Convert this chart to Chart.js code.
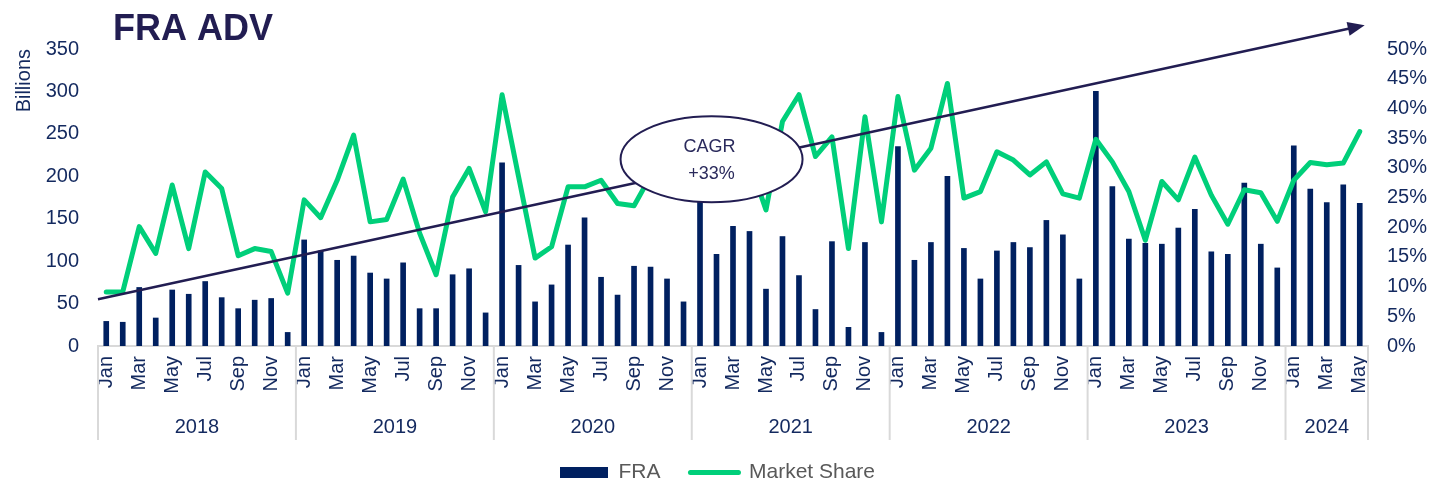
<!DOCTYPE html>
<html>
<head>
<meta charset="utf-8">
<script src="https://cdn.jsdelivr.net/npm/chart.js@4.4.1/dist/chart.umd.min.js"></script>
<style>
  html, body { margin: 0; padding: 0; background: #fff; }
  #wrap { width: 1435px; height: 482px; }
</style>
</head>
<body>
<div id="wrap"><canvas id="fraChart" width="1435" height="482"></canvas></div>
<script>
// Axis categories: one bar per month, Jan 2018 - May 2024
const years = ['2018', '2019', '2020', '2021', '2022', '2023', '2024'];
const monthsInYear = [12, 12, 12, 12, 12, 12, 5];
const monthNames = ['Jan', 'Feb', 'Mar', 'Apr', 'May', 'Jun', 'Jul', 'Aug', 'Sep', 'Oct', 'Nov', 'Dec'];

// FRA average daily volume, billions
const fraAdv = [
  29, 28, 69, 33, 66, 61, 76, 57, 44, 54, 56, 16,        // 2018
  125, 112, 101, 106, 86, 79, 98, 44, 44, 84, 91, 39,    // 2019
  216, 95, 52, 72, 119, 151, 81, 60, 94, 93, 79, 52,     // 2020
  200, 108, 141, 135, 67, 129, 83, 43, 123, 22, 122, 16, // 2021
  235, 101, 122, 200, 115, 79, 112, 122, 116, 148, 131, 79, // 2022
  300, 188, 126, 121, 120, 139, 161, 111, 108, 192, 120, 92, // 2023
  236, 185, 169, 190, 168                                // 2024
];

// Market share, percent
const marketShare = [
  9.1, 9.1, 20.1, 15.6, 27.1, 16.4, 29.3, 26.5, 15.2, 16.4, 15.9, 8.9,
  24.6, 21.6, 27.9, 35.5, 20.9, 21.3, 28.1, 19.0, 12.0, 25.1, 29.9, 22.6,
  42.3, 28.5, 14.8, 16.7, 26.8, 26.8, 27.9, 24.0, 23.6, 28.6, 30.0, 32.0,
  34.0, 31.0, 29.0, 31.0, 22.9, 37.8, 42.3, 31.9, 35.2, 16.4, 38.6, 20.9,
  42.0, 29.6, 33.3, 44.2, 24.9, 26.0, 32.7, 31.3, 28.8, 31.0, 25.6, 24.9,
  34.8, 31.0, 26.0, 17.8, 27.7, 24.6, 31.8, 25.4, 20.5, 26.3, 25.8, 21.0,
  27.9, 30.9, 30.5, 30.8, 36.1
];

// Tick ranges
const leftTicks = { min: 0, max: 350, step: 50 };
const rightTicks = { min: 0, max: 50, step: 5 };

// CAGR annotation, in axis units (category index, billions)
const trendFrom = { x: -0.5, y: 55 };
const trendTo = { x: 76.3, y: 378 };
const cagrAt = { x: 36.7, y: 220 };
const cagrText = ['CAGR', '+33%'];

const labels = [];
years.forEach((yr, k) => {
  for (let m = 0; m < monthsInYear[k]; m++) labels.push(monthNames[m]);
});

const navy = '#002060';
const green = '#00cf7a';
const ink = '#221d52';
const tickColor = '#13295f';

Chart.defaults.font.family = "'Liberation Sans', Arial, sans-serif";

// square-ish swatch for the bar legend item
const fraSwatch = document.createElement('canvas');
fraSwatch.width = 48;
fraSwatch.height = 11;
const sw = fraSwatch.getContext('2d');
sw.fillStyle = navy;
sw.fillRect(0, 0, 48, 11);

const overlay = {
  id: 'overlay',
  afterDatasetsDraw(chart) {
    const { ctx, scales: { x, y } } = chart;
    ctx.save();
    // trend arrow
    const x0 = x.getPixelForValue(trendFrom.x), y0 = y.getPixelForValue(trendFrom.y);
    const x1 = x.getPixelForValue(trendTo.x), y1 = y.getPixelForValue(trendTo.y);
    const ang = Math.atan2(y1 - y0, x1 - x0);
    ctx.strokeStyle = ink;
    ctx.fillStyle = ink;
    ctx.lineWidth = 2.5;
    ctx.beginPath();
    ctx.moveTo(x0, y0);
    ctx.lineTo(x1 - 12 * Math.cos(ang), y1 - 12 * Math.sin(ang));
    ctx.stroke();
    ctx.beginPath();
    ctx.moveTo(x1, y1);
    ctx.lineTo(x1 - 17 * Math.cos(ang) + 7 * Math.sin(ang), y1 - 17 * Math.sin(ang) - 7 * Math.cos(ang));
    ctx.lineTo(x1 - 17 * Math.cos(ang) - 7 * Math.sin(ang), y1 - 17 * Math.sin(ang) + 7 * Math.cos(ang));
    ctx.closePath();
    ctx.fill();

    // CAGR bubble
    const cx = x.getPixelForValue(cagrAt.x), cy = y.getPixelForValue(cagrAt.y);
    ctx.beginPath();
    ctx.ellipse(cx, cy, 91, 43, 0, 0, Math.PI * 2);
    ctx.fillStyle = '#fff';
    ctx.fill();
    ctx.lineWidth = 2;
    ctx.stroke();
    ctx.fillStyle = '#2a2a5c';
    ctx.font = "18px 'Liberation Sans', Arial, sans-serif";
    ctx.textAlign = 'center';
    ctx.textBaseline = 'middle';
    ctx.fillText(cagrText[0], cx - 2, cy - 12);
    ctx.fillText(cagrText[1], cx, cy + 15);
    ctx.restore();
  },
  afterDraw(chart) {
    const { ctx, scales: { x }, chartArea } = chart;
    ctx.save();
    // year groups under the month labels
    ctx.strokeStyle = '#d9d9d9';
    ctx.lineWidth = 2;
    ctx.fillStyle = tickColor;
    ctx.font = "20px 'Liberation Sans', Arial, sans-serif";
    ctx.textAlign = 'center';
    ctx.textBaseline = 'middle';
    let start = 0;
    years.forEach((yr, k) => {
      const end = start + monthsInYear[k];
      const left = x.getPixelForValue(start - 0.5);
      const right = x.getPixelForValue(end - 0.5);
      ctx.beginPath();
      ctx.moveTo(left, chartArea.bottom);
      ctx.lineTo(left, chartArea.bottom + 94);
      if (k === years.length - 1) {
        ctx.moveTo(right, chartArea.bottom);
        ctx.lineTo(right, chartArea.bottom + 94);
      }
      ctx.stroke();
      ctx.fillText(yr, (left + right) / 2, chartArea.bottom + 81);
      start = end;
    });
    // title
    ctx.fillStyle = ink;
    ctx.font = "bold 36px 'Liberation Sans', Arial, sans-serif";
    ctx.textAlign = 'left';
    ctx.textBaseline = 'alphabetic';
    ctx.fillText('FRA ADV', 113, 40);
    ctx.restore();
  }
};

const legendPad = 30;

const ctx = document.getElementById('fraChart').getContext('2d');
const fraChart = new Chart(ctx, {
  type: 'bar',
  data: {
    labels: labels,
    datasets: [{
      label: 'FRA',
      data: fraAdv,
      backgroundColor: navy,
      barThickness: 5,
      yAxisID: 'y',
      order: 1
    }, {
      type: 'line',
      label: 'Market Share',
      data: marketShare,
      borderColor: green,
      backgroundColor: green,
      borderWidth: 5,
      pointRadius: 0,
      tension: 0,
      borderJoinStyle: 'round',
      borderCapStyle: 'round',
      yAxisID: 'y1',
      order: 0
    }]
  },
  options: {
    responsive: false,
    animation: false,
    devicePixelRatio: 1,
    layout: { padding: { top: 49, left: 0, right: 0, bottom: 0 } },
    plugins: {
      tooltip: { enabled: false },
      legend: {
        position: 'bottom',
        maxHeight: legendPad + 20,
        labels: {
          usePointStyle: true,
          pointStyleWidth: 48,
          padding: legendPad,
          color: '#595959',
          font: { size: 21 },
          generateLabels: (chart) => [
            { text: 'FRA', datasetIndex: 0, pointStyle: fraSwatch, fillStyle: navy, strokeStyle: navy, lineWidth: 0, fontColor: '#595959', hidden: false },
            { text: 'Market Share', datasetIndex: 1, pointStyle: 'line', fillStyle: green, strokeStyle: green, lineWidth: 5, lineCap: 'round', fontColor: '#595959', hidden: false }
          ]
        }
      }
    },
    scales: {
      x: {
        grid: { display: false, drawTicks: false },
        border: { display: true, color: '#d9d9d9', width: 2 },
        ticks: {
          autoSkip: false,
          minRotation: 90,
          maxRotation: 90,
          padding: 10,
          color: tickColor,
          font: { size: 20 },
          callback: (v, i) => (i % 2 === 0 ? labels[i] : '')
        },
        afterFit: (s) => { s.height = 86; }
      },
      y: {
        position: 'left',
        min: leftTicks.min,
        max: leftTicks.max,
        grid: { display: false, drawTicks: false },
        border: { display: false },
        ticks: { stepSize: leftTicks.step, padding: 19, color: tickColor, font: { size: 20 } },
        title: { display: true, text: 'Billions', align: 'end', color: tickColor, font: { size: 20 }, padding: { top: 12 } },
        afterFit: (s) => { s.width = 98; }
      },
      y1: {
        position: 'right',
        min: rightTicks.min,
        max: rightTicks.max,
        grid: { display: false, drawTicks: false },
        border: { display: false },
        ticks: { stepSize: rightTicks.step, padding: 19, color: tickColor, font: { size: 20 }, callback: (v) => v + '%' },
        afterFit: (s) => { s.width = 67; }
      }
    }
  },
  plugins: [overlay]
});
</script>
</body>
</html>
